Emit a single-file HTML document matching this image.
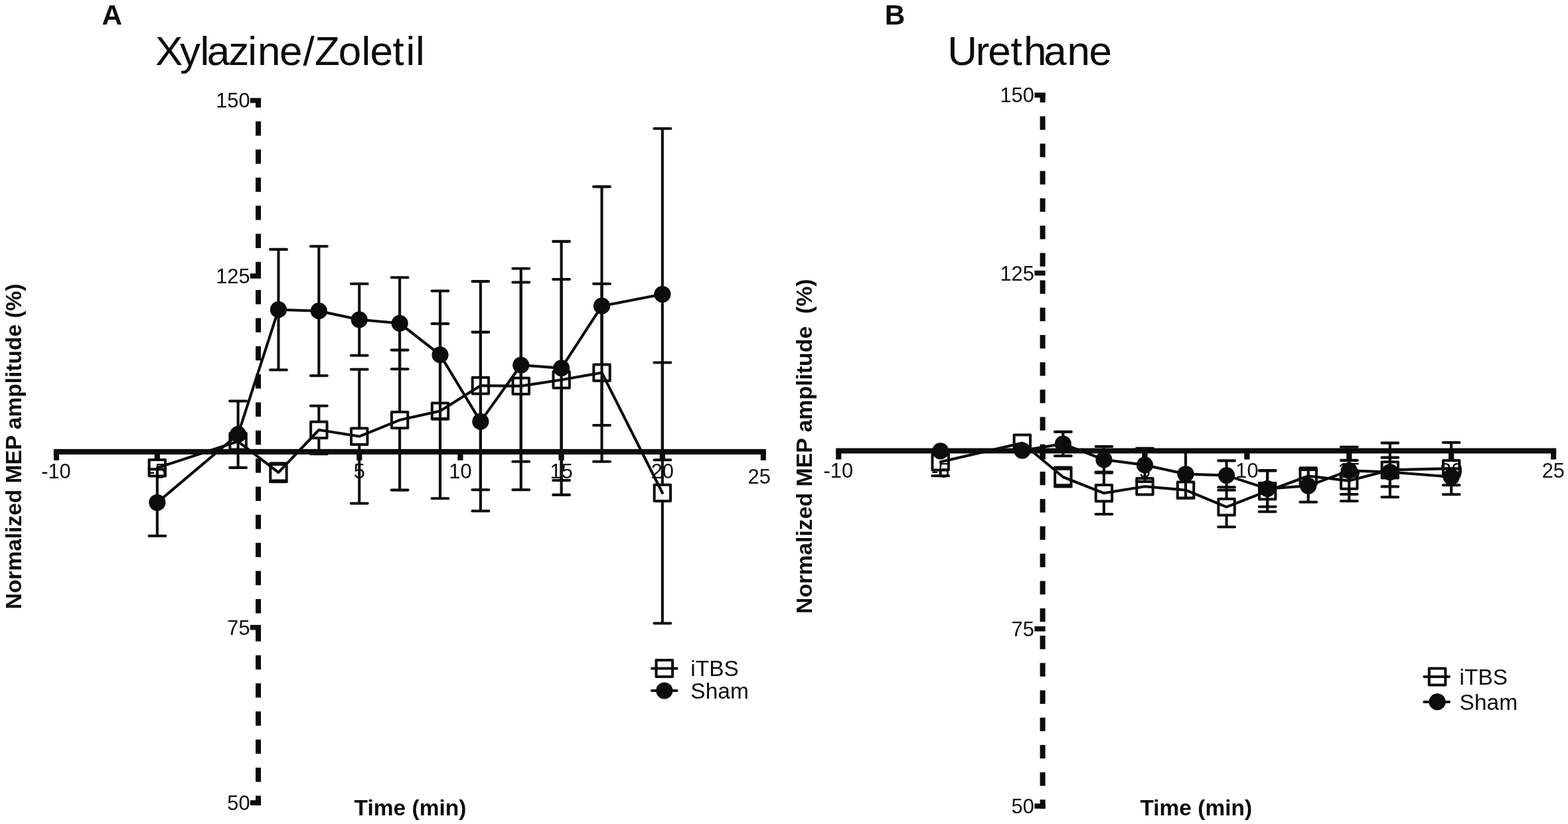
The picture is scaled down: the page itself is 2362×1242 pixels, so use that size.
<!DOCTYPE html>
<html lang="en">
<head>
<meta charset="utf-8">
<title>Normalized MEP amplitude: Xylazine/Zoletil vs Urethane</title>
<style>
html,body{margin:0;padding:0;background:#fff;}
body{width:2362px;height:1242px;overflow:hidden;}
svg{display:block;}
text{font-family:"Liberation Sans",sans-serif;fill:#0b0c0c;}
.tk text{font-size:30.8px;}
.lg text{font-size:33.5px;}
.bl{font-weight:bold;font-size:33.5px;}
.pl{font-weight:bold;font-size:42.3px;}
.tt{font-size:62px;}
</style>
</head>
<body>
<svg width="2362" height="1242" viewBox="0 0 2362 1242">
<rect width="2362" height="1242" fill="#fff"/>

<text class="pl" x="153.5" y="37.3">A</text>
<text class="pl" x="1332.8" y="37.3">B</text>
<text class="tt" x="233.9 271.1 301.4 311.7 344.2 373.3 388 421.1 456.5 474 509.7 544.5 557.6 591.6 611.5 626" y="97.9">Xylazine/Zoletil</text>
<text class="tt" x="1427.3 1469.8 1488.2 1522.6 1542 1572.3 1607.6 1640.4" y="97.6">Urethane</text>
<g fill="#0b0c0c"><rect x="80.9" y="676.85" width="1072.9" height="8.2"/>
<rect x="80.9" y="680.95" width="8.1" height="12.85"/>
<rect x="232.75" y="680.95" width="8.2" height="12.85"/>
<rect x="537.15" y="680.95" width="8.2" height="12.85"/>
<rect x="689.35" y="680.95" width="8.2" height="12.85"/>
<rect x="841.55" y="680.95" width="8.2" height="12.85"/>
<rect x="993.75" y="680.95" width="8.2" height="12.85"/>
<rect x="1145.8" y="680.95" width="8" height="12.85"/>
<rect x="385.05" y="148" width="8" height="14.15"/>
<rect x="385.05" y="183" width="8" height="21.5"/>
<rect x="385.05" y="225.35" width="8" height="21.5"/>
<rect x="385.05" y="267.7" width="8" height="21.5"/>
<rect x="385.05" y="310.05" width="8" height="21.5"/>
<rect x="385.05" y="352.4" width="8" height="21.5"/>
<rect x="385.05" y="394.75" width="8" height="21.5"/>
<rect x="385.05" y="437.1" width="8" height="21.5"/>
<rect x="385.05" y="479.45" width="8" height="21.5"/>
<rect x="385.05" y="521.8" width="8" height="21.5"/>
<rect x="385.05" y="564.15" width="8" height="21.5"/>
<rect x="385.05" y="606.5" width="8" height="21.5"/>
<rect x="385.05" y="648.85" width="8" height="21.5"/>
<rect x="385.05" y="691.2" width="8" height="21.5"/>
<rect x="385.05" y="733.55" width="8" height="21.5"/>
<rect x="385.05" y="775.9" width="8" height="21.5"/>
<rect x="385.05" y="818.25" width="8" height="21.5"/>
<rect x="385.05" y="860.6" width="8" height="21.5"/>
<rect x="385.05" y="902.95" width="8" height="21.5"/>
<rect x="385.05" y="945.3" width="8" height="21.5"/>
<rect x="385.05" y="987.65" width="8" height="21.5"/>
<rect x="385.05" y="1030" width="8" height="21.5"/>
<rect x="385.05" y="1072.35" width="8" height="21.5"/>
<rect x="385.05" y="1114.7" width="8" height="21.5"/>
<rect x="385.05" y="1157.05" width="8" height="21.5"/>
<rect x="385.05" y="1199.4" width="8" height="14.6"/>
<rect x="376.85" y="147.7" width="16.2" height="7.6"/>
<rect x="376.85" y="412.2" width="16.2" height="7.6"/>
<rect x="376.85" y="941.9" width="16.2" height="7.6"/>
<rect x="376.85" y="1206.2" width="16.2" height="7.6"/></g>
<g fill="none" stroke="#0b0c0c" stroke-width="4.1" stroke-linecap="round"><path d="M419.49 698.2V726.2M407.09 698.2H431.89M407.09 726.2H431.89"/>
<path d="M480.37 611.8V684.2M467.97 611.8H492.77M467.97 684.2H492.77"/>
<path d="M541.25 556.8V758.8M528.85 556.8H553.65M528.85 758.8H553.65"/>
<path d="M602.13 527.6V738.6M589.73 527.6H614.53M589.73 738.6H614.53"/>
<path d="M663.01 487.9V751.3M650.61 487.9H675.41M650.61 751.3H675.41"/>
<path d="M723.89 424.1V738.3M711.49 424.1H736.29M711.49 738.3H736.29"/>
<path d="M784.77 425.5V738.3M772.37 425.5H797.17M772.37 738.3H797.17"/>
<path d="M845.65 421V724M833.25 421H858.05M833.25 724H858.05"/>
<path d="M906.53 427.7V695.7M894.13 427.7H918.93M894.13 695.7H918.93"/>
<path d="M997.85 546.5V939.5M985.45 546.5H1010.25M985.45 939.5H1010.25"/></g>
<g fill="#fff" stroke="#0b0c0c" stroke-width="4" stroke-linejoin="round"><rect x="224.65" y="693" width="24.4" height="24.4"/>
<rect x="346.41" y="653.1" width="24.4" height="24.4"/>
<rect x="407.29" y="700" width="24.4" height="24.4"/>
<rect x="468.17" y="635.8" width="24.4" height="24.4"/>
<rect x="529.05" y="645.6" width="24.4" height="24.4"/>
<rect x="589.93" y="620.9" width="24.4" height="24.4"/>
<rect x="650.81" y="607.4" width="24.4" height="24.4"/>
<rect x="711.69" y="569" width="24.4" height="24.4"/>
<rect x="772.57" y="569.7" width="24.4" height="24.4"/>
<rect x="833.45" y="560.3" width="24.4" height="24.4"/>
<rect x="894.33" y="549.5" width="24.4" height="24.4"/>
<rect x="985.65" y="730.8" width="24.4" height="24.4"/></g>
<g class="tk"><text x="84.5" y="720.5" text-anchor="middle">-10</text>
<text x="236.85" y="720.5" text-anchor="middle">-5</text>
<text x="541.25" y="720.5" text-anchor="middle">5</text>
<text x="693.45" y="720.5" text-anchor="middle">10</text>
<text x="845.65" y="720.5" text-anchor="middle">15</text>
<text x="997.85" y="720.5" text-anchor="middle">20</text>
<text x="1143.7" y="728.9" text-anchor="middle">25</text>
<text x="376.6" y="162.3" text-anchor="end">150</text>
<text x="376.6" y="426.8" text-anchor="end">125</text>
<text x="376.6" y="956.5" text-anchor="end">75</text>
<text x="376.6" y="1220.8" text-anchor="end">50</text></g>
<polyline points="236.85,705.2 358.61,665.3 419.49,712.2 480.37,648 541.25,657.8 602.13,633.1 663.01,619.6 723.89,581.2 784.77,581.9 845.65,572.5 906.53,561.7 997.85,743" fill="none" stroke="#0b0c0c" stroke-width="4.1" stroke-linejoin="round" stroke-linecap="round"/>
<g fill="none" stroke="#0b0c0c" stroke-width="4.1" stroke-linecap="round"><path d="M236.85 707.2V807.8M224.45 707.2H249.25M224.45 807.8H249.25"/>
<path d="M358.61 604.5V704.9M346.21 604.5H371.01M346.21 704.9H371.01"/>
<path d="M419.49 375.9V557.5M407.09 375.9H431.89M407.09 557.5H431.89"/>
<path d="M480.37 371.2V566.2M467.97 371.2H492.77M467.97 566.2H492.77"/>
<path d="M541.25 427.8V535.8M528.85 427.8H553.65M528.85 535.8H553.65"/>
<path d="M602.13 418.3V556.3M589.73 418.3H614.53M589.73 556.3H614.53"/>
<path d="M663.01 438.5V631.1M650.61 438.5H675.41M650.61 631.1H675.41"/>
<path d="M723.89 500.6V770.2M711.49 500.6H736.29M711.49 770.2H736.29"/>
<path d="M784.77 404.8V695.8M772.37 404.8H797.17M772.37 695.8H797.17"/>
<path d="M845.65 363.9V745.9M833.25 363.9H858.05M833.25 745.9H858.05"/>
<path d="M906.53 281.4V641M894.13 281.4H918.93M894.13 641H918.93"/>
<path d="M997.85 193.7V693.3M985.45 193.7H1010.25M985.45 693.3H1010.25"/></g>
<polyline points="236.85,757.5 358.61,654.7 419.49,466.7 480.37,468.7 541.25,481.8 602.13,487.3 663.01,534.8 723.89,635.4 784.77,550.3 845.65,554.9 906.53,461.2 997.85,443.5" fill="none" stroke="#0b0c0c" stroke-width="4.1" stroke-linejoin="round" stroke-linecap="round"/>
<g fill="#0b0c0c"><circle cx="236.85" cy="757.5" r="12.6"/>
<circle cx="358.61" cy="654.7" r="12.6"/>
<circle cx="419.49" cy="466.7" r="12.6"/>
<circle cx="480.37" cy="468.7" r="12.6"/>
<circle cx="541.25" cy="481.8" r="12.6"/>
<circle cx="602.13" cy="487.3" r="12.6"/>
<circle cx="663.01" cy="534.8" r="12.6"/>
<circle cx="723.89" cy="635.4" r="12.6"/>
<circle cx="784.77" cy="550.3" r="12.6"/>
<circle cx="845.65" cy="554.9" r="12.6"/>
<circle cx="906.53" cy="461.2" r="12.6"/>
<circle cx="997.85" cy="443.5" r="12.6"/></g>
<g fill="#0b0c0c"><rect x="1259.2" y="675.5" width="1085" height="8"/>
<rect x="1259.2" y="679.5" width="8.1" height="13"/>
<rect x="1412.6" y="679.5" width="8.2" height="13"/>
<rect x="1566.5" y="679.5" width="8.2" height="13"/>
<rect x="1720.4" y="679.5" width="8.2" height="13"/>
<rect x="1874.3" y="679.5" width="8.2" height="13"/>
<rect x="2028.2" y="679.5" width="8.2" height="13"/>
<rect x="2182.1" y="679.5" width="8.2" height="13"/>
<rect x="2336.2" y="679.5" width="8" height="13"/>
<rect x="1566.6" y="140" width="8" height="14.5"/>
<rect x="1566.6" y="175.3" width="8" height="20.4"/>
<rect x="1566.6" y="216.5" width="8" height="20.4"/>
<rect x="1566.6" y="257.7" width="8" height="20.4"/>
<rect x="1566.6" y="298.9" width="8" height="20.4"/>
<rect x="1566.6" y="340.1" width="8" height="20.4"/>
<rect x="1566.6" y="381.3" width="8" height="20.4"/>
<rect x="1566.6" y="422.5" width="8" height="20.4"/>
<rect x="1566.6" y="463.7" width="8" height="20.4"/>
<rect x="1566.6" y="504.9" width="8" height="20.4"/>
<rect x="1566.6" y="546.1" width="8" height="20.4"/>
<rect x="1566.6" y="587.3" width="8" height="20.4"/>
<rect x="1566.6" y="628.5" width="8" height="20.4"/>
<rect x="1566.6" y="669.7" width="8" height="20.4"/>
<rect x="1566.6" y="710.9" width="8" height="20.4"/>
<rect x="1566.6" y="752.1" width="8" height="20.4"/>
<rect x="1566.6" y="793.3" width="8" height="20.4"/>
<rect x="1566.6" y="834.5" width="8" height="20.4"/>
<rect x="1566.6" y="875.7" width="8" height="20.4"/>
<rect x="1566.6" y="916.9" width="8" height="20.4"/>
<rect x="1566.6" y="958.1" width="8" height="20.4"/>
<rect x="1566.6" y="999.3" width="8" height="20.4"/>
<rect x="1566.6" y="1040.5" width="8" height="20.4"/>
<rect x="1566.6" y="1081.7" width="8" height="20.4"/>
<rect x="1566.6" y="1122.9" width="8" height="20.4"/>
<rect x="1566.6" y="1164.1" width="8" height="20.4"/>
<rect x="1566.6" y="1205.3" width="8" height="13.6"/>
<rect x="1558.4" y="139.6" width="16.2" height="7.6"/>
<rect x="1558.4" y="407.8" width="16.2" height="7.6"/>
<rect x="1558.4" y="944" width="16.2" height="7.6"/>
<rect x="1558.4" y="1211.2" width="16.2" height="7.6"/></g>
<g fill="none" stroke="#0b0c0c" stroke-width="4.1" stroke-linecap="round"><path d="M1416.7 678.8V717.2M1404.3 678.8H1429.1M1404.3 717.2H1429.1"/>
<path d="M1601.38 704.5V733.5M1588.98 704.5H1613.78M1588.98 733.5H1613.78"/>
<path d="M1662.94 711.6V775M1650.54 711.6H1675.34M1650.54 775H1675.34"/>
<path d="M1786.06 728.7V748.7M1773.66 728.7H1798.46M1773.66 748.7H1798.46"/>
<path d="M1847.62 734.2V794.2M1835.22 734.2H1860.02M1835.22 794.2H1860.02"/>
<path d="M1909.18 709.1V771.3M1896.78 709.1H1921.58M1896.78 771.3H1921.58"/>
<path d="M2032.3 693.9V755.3M2019.9 693.9H2044.7M2019.9 755.3H2044.7"/>
<path d="M2093.86 667.6V749.2M2081.46 667.6H2106.26M2081.46 749.2H2106.26"/>
<path d="M2186.2 667V745.2M2173.8 667H2198.6M2173.8 745.2H2198.6"/></g>
<g fill="#fff" stroke="#0b0c0c" stroke-width="4" stroke-linejoin="round"><rect x="1404.5" y="684.1" width="24.4" height="24.4"/>
<rect x="1527.62" y="655.5" width="24.4" height="24.4"/>
<rect x="1589.18" y="706.8" width="24.4" height="24.4"/>
<rect x="1650.74" y="731.1" width="24.4" height="24.4"/>
<rect x="1712.3" y="721.1" width="24.4" height="24.4"/>
<rect x="1773.86" y="726.5" width="24.4" height="24.4"/>
<rect x="1835.42" y="752" width="24.4" height="24.4"/>
<rect x="1896.98" y="728" width="24.4" height="24.4"/>
<rect x="1958.54" y="705.3" width="24.4" height="24.4"/>
<rect x="2020.1" y="712.4" width="24.4" height="24.4"/>
<rect x="2081.66" y="696.2" width="24.4" height="24.4"/>
<rect x="2174" y="693.9" width="24.4" height="24.4"/></g>
<g class="tk"><text x="1262.8" y="719.5" text-anchor="middle">-10</text>
<text x="1416.7" y="719.5" text-anchor="middle">-5</text>
<text x="1724.5" y="719.5" text-anchor="middle">5</text>
<text x="1878.4" y="719.5" text-anchor="middle">10</text>
<text x="2032.3" y="719.5" text-anchor="middle">15</text>
<text x="2186.2" y="719.5" text-anchor="middle">20</text>
<text x="2339.8" y="719.5" text-anchor="middle">25</text>
<text x="1557.8" y="154.3" text-anchor="end">150</text>
<text x="1557.8" y="422.5" text-anchor="end">125</text>
<text x="1557.8" y="958.7" text-anchor="end">75</text>
<text x="1557.8" y="1225.9" text-anchor="end">50</text></g>
<polyline points="1416.7,696.3 1539.82,667.7 1601.38,719 1662.94,743.3 1724.5,733.3 1786.06,738.7 1847.62,764.2 1909.18,740.2 1970.74,717.5 2032.3,724.6 2093.86,708.4 2186.2,706.1" fill="none" stroke="#0b0c0c" stroke-width="4.1" stroke-linejoin="round" stroke-linecap="round"/>
<g fill="none" stroke="#0b0c0c" stroke-width="4.1" stroke-linecap="round"><path d="M1601.38 650.9V687.3M1588.98 650.9H1613.78M1588.98 687.3H1613.78"/>
<path d="M1662.94 673V712.6M1650.54 673H1675.34M1650.54 712.6H1675.34"/>
<path d="M1724.5 675.9V725.9M1712.1 675.9H1736.9M1712.1 725.9H1736.9"/>
<path d="M1786.06 678.5V750.5M1773.66 678.5H1798.46M1773.66 750.5H1798.46"/>
<path d="M1847.62 694.4V738.8M1835.22 694.4H1860.02M1835.22 738.8H1860.02"/>
<path d="M1909.18 709.5V763.7M1896.78 709.5H1921.58M1896.78 763.7H1921.58"/>
<path d="M1970.74 707.9V756.7M1958.34 707.9H1983.14M1958.34 756.7H1983.14"/>
<path d="M2032.3 673.8V745M2019.9 673.8H2044.7M2019.9 745H2044.7"/>
<path d="M2093.86 689.6V733.4M2081.46 689.6H2106.26M2081.46 733.4H2106.26"/>
<path d="M2186.2 706.3V731.3M2173.8 706.3H2198.6M2173.8 731.3H2198.6"/></g>
<polyline points="1416.7,679.9 1539.82,679 1601.38,669.1 1662.94,692.8 1724.5,700.9 1786.06,714.5 1847.62,716.6 1909.18,736.6 1970.74,732.3 2032.3,709.4 2093.86,711.5 2186.2,718.8" fill="none" stroke="#0b0c0c" stroke-width="4.1" stroke-linejoin="round" stroke-linecap="round"/>
<g fill="#0b0c0c"><circle cx="1416.7" cy="679.9" r="12.6"/>
<circle cx="1539.82" cy="679" r="12.6"/>
<circle cx="1601.38" cy="669.1" r="12.6"/>
<circle cx="1662.94" cy="692.8" r="12.6"/>
<circle cx="1724.5" cy="700.9" r="12.6"/>
<circle cx="1786.06" cy="714.5" r="12.6"/>
<circle cx="1847.62" cy="716.6" r="12.6"/>
<circle cx="1909.18" cy="736.6" r="12.6"/>
<circle cx="1970.74" cy="732.3" r="12.6"/>
<circle cx="2032.3" cy="709.4" r="12.6"/>
<circle cx="2093.86" cy="711.5" r="12.6"/>
<circle cx="2186.2" cy="718.8" r="12.6"/></g>
<text class="bl" x="533.6" y="1229.2">Time (min)</text>
<text class="bl" x="1717.4" y="1229.2">Time (min)</text>
<text class="bl" transform="translate(31.6 918.3) rotate(-90)">Normalized MEP amplitude (%)</text>
<text class="bl" transform="translate(1223.2 925) rotate(-90)" style="white-space:pre;font-size:33.8px">Normalized MEP amplitude  (%)</text>
<g fill="none" stroke="#0b0c0c" stroke-width="4.05" stroke-linecap="round" stroke-linejoin="round"><rect x="988.5" y="995" width="24.6" height="25" fill="#fff"/><path d="M982 1007.5H1019.6M982 1041H1019.6"/></g>
<circle cx="1000.8" cy="1041" r="12.6" fill="#0b0c0c"/>
<g class="lg"><text x="1040.3" y="1019.4">iTBS</text><text x="1040.3" y="1052.7">Sham</text></g>
<g fill="none" stroke="#0b0c0c" stroke-width="4.05" stroke-linecap="round" stroke-linejoin="round"><rect x="2152.8" y="1007.5" width="24.6" height="25" fill="#fff"/><path d="M2145.4 1020H2183M2145.4 1057.9H2183"/></g>
<circle cx="2165.1" cy="1057.9" r="12.6" fill="#0b0c0c"/>
<g class="lg"><text x="2198.6" y="1031.8">iTBS</text><text x="2198.6" y="1070.1">Sham</text></g>
</svg>
</body>
</html>
